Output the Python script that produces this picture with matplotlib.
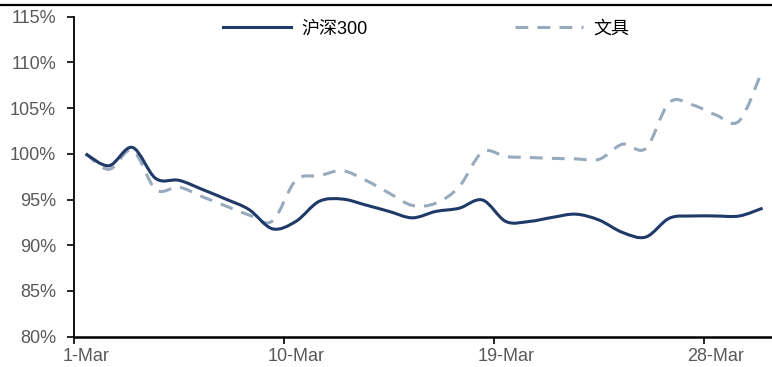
import matplotlib
matplotlib.use("Agg")
import matplotlib.pyplot as plt
import numpy as np
from matplotlib.lines import Line2D
from matplotlib.path import Path
from matplotlib.patches import PathPatch

plt.rcParams["font.family"] = ["Liberation Sans", "Noto Sans CJK SC", "DejaVu Sans"]

# daily categories, 1-Mar .. 30-Mar
days = [f"{d}-Mar" for d in range(1, 31)]
tick_labels = ["1-Mar", "10-Mar", "19-Mar", "28-Mar"]

# relative performance, %
hs300 = [100.0, 98.7, 100.7, 97.3, 97.1, 96.1, 95.05, 93.9, 91.8, 92.6,
         94.8, 95.05, 94.4, 93.7, 93.0, 93.7, 94.05, 94.95, 92.6, 92.6,
         93.05, 93.4, 92.75, 91.4, 90.9, 92.95, 93.2, 93.2, 93.2, 94.05]
stationery = [100.0, 98.3, 100.4, 96.1, 96.35, 95.3, 94.3, 93.3, 92.65, 97.1,
              97.6, 98.15, 97.1, 95.7, 94.35, 94.6, 96.4, 100.2, 99.7, 99.6,
              99.5, 99.45, 99.4, 101.05, 100.6, 105.6, 105.35, 104.25, 103.6, 109.2]

NAVY = "#1f3a68"
STEEL = "#98aabd"
GREY = "#595959"
FS = 13


def smooth_path(x, y):
    """Excel-style smoothed line: Catmull-Rom segments as cubic Beziers."""
    p = np.column_stack([x, y]).astype(float)
    n = len(p)
    verts = [p[0]]
    codes = [Path.MOVETO]
    for i in range(n - 1):
        p0 = p[i - 1] if i > 0 else p[i]
        p3 = p[i + 2] if i + 2 < n else p[i + 1]
        c1 = p[i] + (p[i + 1] - p0) / 6.0
        c2 = p[i + 1] - (p3 - p[i]) / 6.0
        verts += [c1, c2, p[i + 1]]
        codes += [Path.CURVE4] * 3
    return Path(verts, codes)


fig = plt.figure(figsize=(7.72, 3.67), dpi=100)
ax = fig.add_axes([0.0959, 0.0826, 0.907, 0.872])

x = np.arange(len(days))
ax.add_patch(PathPatch(smooth_path(x, stationery), fill=False, edgecolor=STEEL,
                       lw=2.2, linestyle=(0, (4.2, 3)), zorder=2))
ax.add_patch(PathPatch(smooth_path(x, hs300), fill=False, edgecolor=NAVY,
                       lw=2.2, zorder=3))

ax.set_xlim(-0.5, len(days) - 0.5)
ax.set_ylim(80, 115)

# tick marks between categories, labels on the category
ax.set_xticks([-0.5, 8.5, 17.5, 26.5])
ax.set_xticklabels([])
ax.set_xticks([days.index(t) for t in tick_labels], minor=True)
ax.set_xticklabels(tick_labels, minor=True)
ax.tick_params(axis="x", which="major", direction="out", length=5, width=1.2, color="black")
ax.tick_params(axis="x", which="minor", length=0, pad=8, labelsize=FS, labelcolor=GREY)

yt = np.arange(80, 116, 5)
ax.set_yticks(yt)
ax.set_yticklabels([f"{v}%" for v in yt])
ax.tick_params(axis="y", direction="out", length=5, width=1.2, color="black",
               pad=8, labelsize=FS, labelcolor=GREY)

for side in ("top", "right"):
    ax.spines[side].set_visible(False)
ax.spines["left"].set_linewidth(1.3)
ax.spines["bottom"].set_linewidth(1.8)

handles = [Line2D([], [], color=NAVY, lw=2.2),
           Line2D([], [], color=STEEL, lw=2.2, linestyle=(0, (4.2, 3)))]
fig.legend(handles, ["沪深300", "文具"], loc="center", bbox_to_anchor=(0.552, 0.921),
           ncol=2, frameon=False, fontsize=FS, handlelength=3.75, handletextpad=0.55,
           columnspacing=8.2)

# thin rule across the top of the picture
fig.add_artist(Line2D([0, 1], [0.987, 0.987], transform=fig.transFigure,
                      color="black", lw=1.6))

fig.savefig("out.png", dpi=100)
